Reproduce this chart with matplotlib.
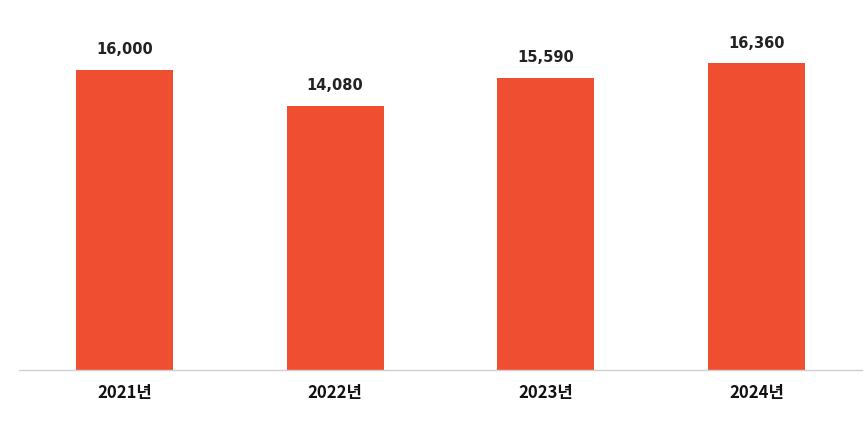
import matplotlib
matplotlib.use("Agg")
import matplotlib.pyplot as plt

YEARS = ["2021년", "2022년", "2023년", "2024년"]
VALUES = [16000, 14080, 15590, 16360]
BAR_COLOR = "#F04E30"

plt.rcParams["font.family"] = ["Noto Sans CJK KR", "DejaVu Sans"]

fig = plt.figure(figsize=(8.68, 4.21), dpi=100)
ax = fig.add_axes([19 / 868, 51 / 421, 843 / 868, 337.5 / 421])

x = range(len(YEARS))
ax.bar(x, VALUES, width=0.46, color=BAR_COLOR, zorder=2)
for xi, v in zip(x, VALUES):
    ax.annotate(f"{v:,}", (xi, v), xytext=(0, 9), textcoords="offset points",
                ha="center", va="bottom", fontsize=10.5, fontweight="bold",
                family=["DejaVu Sans"], color="#222222")

ax.set_xlim(-0.5, 3.5)
ax.set_ylim(0, 18000)
ax.set_xticks(list(x))
ax.set_xticklabels(YEARS, fontsize=12, fontweight="bold", color="#111111")
ax.tick_params(axis="x", length=0, pad=10)
ax.set_yticks([])
for side in ["top", "right", "left"]:
    ax.spines[side].set_visible(False)
ax.spines["bottom"].set_color("#d0d0d0")
ax.spines["bottom"].set_linewidth(1)

fig.savefig("out.png", dpi=100)
